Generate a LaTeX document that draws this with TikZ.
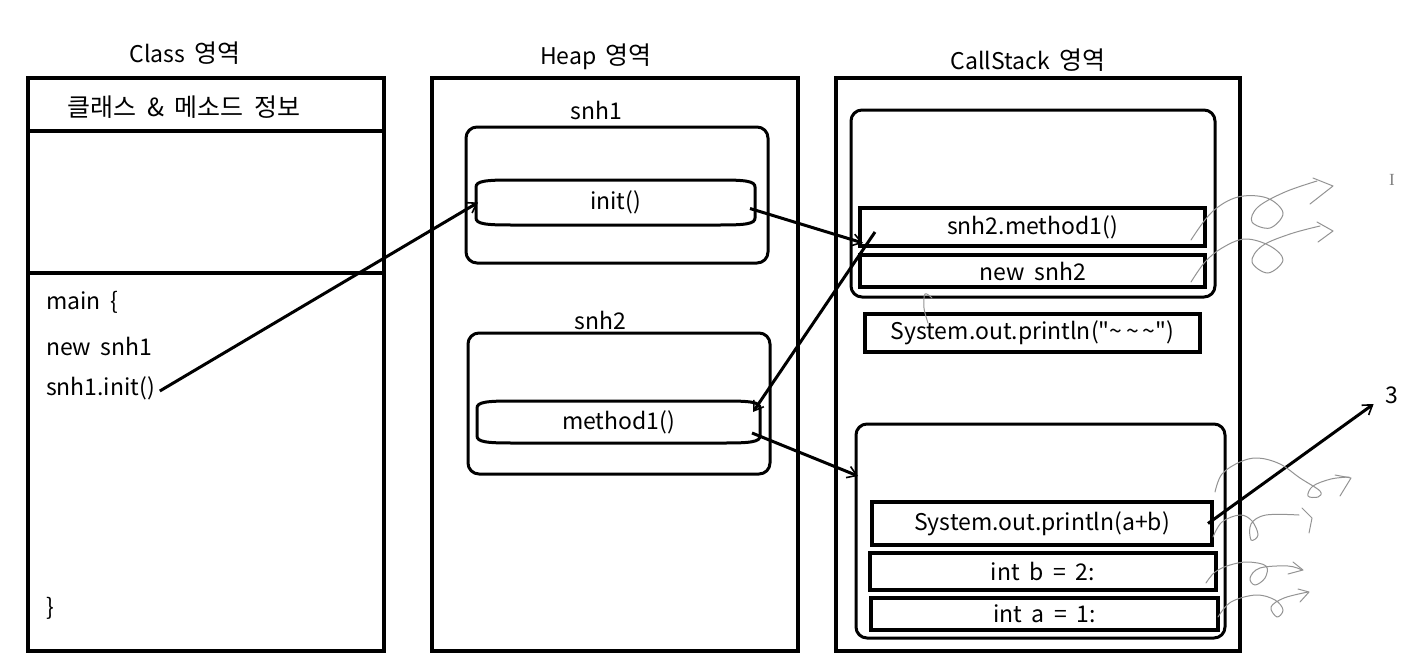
\documentclass[tikz,border=0pt]{standalone}
\usepackage{fontspec}
\setmainfont{Noto Sans CJK KR}[Ligatures=TeXOff]
\newfontfamily\curfont{Liberation Serif}
\newcommand\nodefont{\fontsize{23}{26}\selectfont\spaceskip 0.42em\relax}
\newcommand\kr[1]{{\fontsize{25}{28}\selectfont\spaceskip 0.42em\relax #1}}
\usetikzlibrary{arrows.meta,calc}
\begin{document}
\begin{tikzpicture}[x=1pt,y=-1pt,
  every node/.style={font=\nodefont, inner sep=0pt, outer sep=0pt},
  outer/.style={draw, line width=3.2pt},
  frame/.style={draw, line width=3pt, rounded corners=11pt},
  slot/.style={draw, line width=3.4pt},
  arr/.style={line width=3pt, -{Straight Barb[length=9pt,width=12pt,line width=1.6pt]}},
  doodle/.style={draw=gray!85, line width=1pt, line cap=round, line join=round}]
\useasboundingbox (0,0) rectangle (1427,661);
% titles
\node (tcls) at (185,53) {Class \kr{영역}};
\node (theap) at (596,57) {Heap \kr{영역}};
\node (tcs) at (1028,60) {CallStack \kr{영역}};
% class area
\node[outer, minimum width=356pt, minimum height=573pt] (cls) at (206,364.5) {};
\draw[line width=3.2pt] ($(cls.north west)+(0,53)$) -- ($(cls.north east)+(0,53)$);
\draw[line width=3.2pt] ($(cls.north west)+(0,195)$) -- ($(cls.north east)+(0,195)$);
\node (hdr) at (184,107) {\kr{클래스 \& 메소드 정보}};
\node[anchor=west] (l1) at (46,302) {main \{};
\node[anchor=west] (l2) at (46,346) {new snh1};
\node[anchor=west] (l3) at (46,388) {snh1.init()};
\node[anchor=west] (l4) at (46,608) {\}};
% heap area
\node[outer, minimum width=366pt, minimum height=573pt] (heap) at (615,364.5) {};
\node (s1lbl) at (596,110) {snh1};
\node[frame, minimum width=302pt, minimum height=136pt] (s1) at (617,195) {};
\node[minimum width=279pt, minimum height=45pt] (init) at (615.5,202.5) {init()};
\draw[line width=3pt] ($(init.north west)+(0,7)$) -- ($(init.south west)+(0,-7)$)
  .. controls ($(init.south west)+(0,-1)$) and ($(init.south west)+(10,0)$) .. ($(init.south west)+(35,0)$)
  -- ($(init.south east)+(-35,0)$)
  .. controls ($(init.south east)+(-10,0)$) and ($(init.south east)+(0,-1)$) .. ($(init.south east)+(0,-7)$)
  -- ($(init.north east)+(0,7)$)
  .. controls ($(init.north east)+(0,1)$) and ($(init.north east)+(-10,0)$) .. ($(init.north east)+(-35,0)$)
  -- ($(init.north west)+(35,0)$)
  .. controls ($(init.north west)+(10,0)$) and ($(init.north west)+(0,1)$) .. cycle;
\node (s2lbl) at (600,320) {snh2};
\node[frame, minimum width=302pt, minimum height=141pt] (s2) at (619,403.5) {};
\node[minimum width=283pt, minimum height=42pt] (meth) at (618.5,422) {method1()};
\draw[line width=3pt] ($(meth.north west)+(0,7)$) -- ($(meth.south west)+(0,-7)$)
  .. controls ($(meth.south west)+(0,-1)$) and ($(meth.south west)+(10,0)$) .. ($(meth.south west)+(35,0)$)
  -- ($(meth.south east)+(-35,0)$)
  .. controls ($(meth.south east)+(-10,0)$) and ($(meth.south east)+(0,-1)$) .. ($(meth.south east)+(0,-7)$)
  -- ($(meth.north east)+(0,7)$)
  .. controls ($(meth.north east)+(0,1)$) and ($(meth.north east)+(-10,0)$) .. ($(meth.north east)+(-35,0)$)
  -- ($(meth.north west)+(35,0)$)
  .. controls ($(meth.north west)+(10,0)$) and ($(meth.north west)+(0,1)$) .. cycle;
% callstack area
\node[outer, minimum width=404pt, minimum height=573pt] (cs) at (1038,364.5) {};
\node[frame, minimum width=364pt, minimum height=187pt] (fr1) at (1033,203.5) {};
\node[slot, minimum width=345pt, minimum height=38pt] (m1box) at (1032.5,227) {snh2.method1()};
\node[slot, minimum width=345pt, minimum height=32pt] (ns2box) at (1032.5,271) {new snh2};
\node[slot, minimum width=335pt, minimum height=38pt] (prbox) at (1032.5,333) {System.out.println("\textasciitilde\,\textasciitilde\,\textasciitilde")};
\node[frame, minimum width=369pt, minimum height=214pt] (fr2) at (1040.5,531) {};
\node[slot, minimum width=340pt, minimum height=43pt] (pab) at (1042,523.5) {System.out.println(a+b)};
\node[slot, minimum width=346pt, minimum height=37pt] (ib) at (1043,571.5) {int b = 2:};
\node[slot, minimum width=347pt, minimum height=32pt] (ia) at (1044.5,614) {int a = 1:};
\node (three) at (1392,395) {3};
\node[text=gray, font=\fontsize{17}{18}\selectfont\curfont] (cursor) at (1392,180) {I};
% thick arrows
\draw[arr] ($(l3.east)+(5,3)$) -- ($(init.west)+(2,0)$);
\draw[arr] ($(init.east)+(-5,6)$) -- ($(m1box.south west)+(3,-3)$);
\draw[arr] ($(m1box.west)+(15,5)$) -- ($(meth.east)+(-7,-10)$);
\draw[arr] ($(meth.east)+(-8,11)$) -- ($(fr2.north west)+(2,52)$);
\draw[arr] ($(pab.east)+(-4,0)$) -- ($(three.west)+(-12,9)$);
% hand-drawn doodles
\draw[doodle] plot[smooth,tension=0.6] coordinates {(1191,240) (1212,212) (1238,197) (1267,198) (1283,213) (1270,228) (1252,222) (1258,207) (1285,192) (1317,181)};
\draw[doodle] (1313,178) -- (1333,186) -- (1310,204);
\draw[doodle] plot[smooth,tension=0.6] coordinates {(1191,282) (1205,262) (1222,248) (1245,239) (1270,246) (1283,260) (1268,273) (1252,262) (1262,246) (1290,234) (1320,226)};
\draw[doodle] (1317,222) -- (1333,231) -- (1318,242);
\draw[doodle] plot[smooth,tension=0.6] coordinates {(1215,492) (1222,474) (1240,462) (1258,458) (1280,464) (1300,478) (1320,491) (1318,497) (1308,496) (1313,486) (1331,479) (1349,477)};
\draw[doodle] (1335,475) -- (1351,478) -- (1340,496);
\draw[doodle] plot[smooth,tension=0.6] coordinates {(1213,537) (1222,522) (1240,515) (1252,521) (1258,535) (1251,540) (1251,524) (1266,515) (1299,515)};
\draw[doodle] (1302,508) -- (1312,518) -- (1309,533);
\draw[doodle] plot[smooth,tension=0.6] coordinates {(1206,583) (1215,572) (1230,565) (1248,562) (1266,566) (1265,578) (1255,585) (1250,578) (1260,568) (1288,566) (1302,570)};
\draw[doodle] (1293,562) -- (1303,570) -- (1288,574);
\draw[doodle] plot[smooth,tension=0.6] coordinates {(1218,617) (1231,602) (1256,595) (1275,600) (1283,610) (1277,617) (1271,607) (1284,598) (1308,592)};
\draw[doodle] (1298,589) -- (1309,592) -- (1300,602);
\draw[doodle] plot[smooth,tension=0.6] coordinates {(928,323) (924,308) (925,294) (932,298)};
\end{tikzpicture}
\end{document}
